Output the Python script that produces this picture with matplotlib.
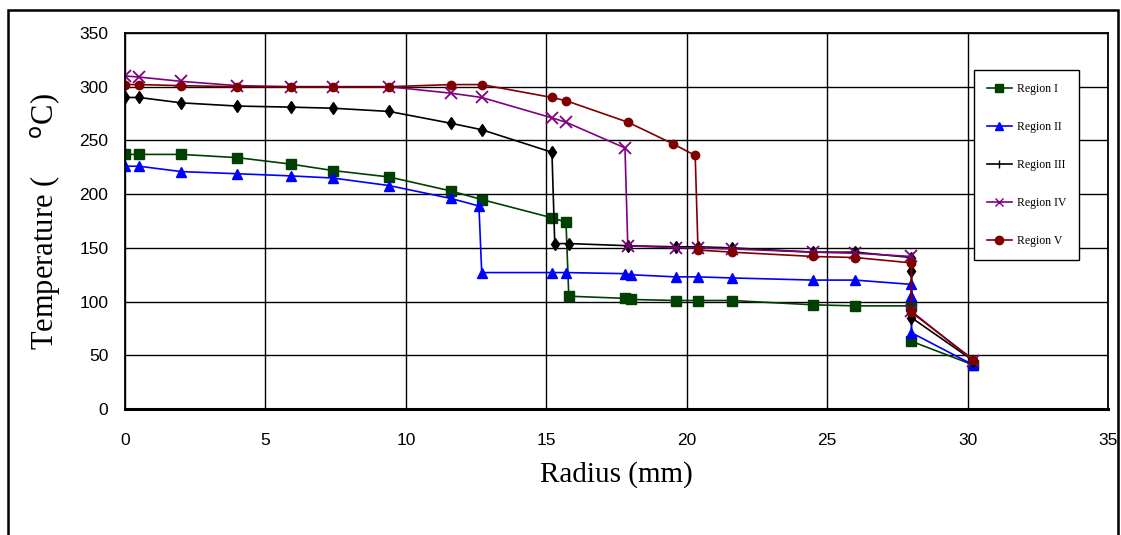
import matplotlib
matplotlib.use("Agg")
import matplotlib.pyplot as plt
from matplotlib.lines import Line2D
from matplotlib.patches import Rectangle

# radius (mm) and temperature (C) for each region
r1 = [0, 0.5, 2, 4, 5.9, 7.4, 9.4, 11.6, 12.7, 15.2, 15.7, 15.8, 17.8, 18, 19.6, 20.4, 21.6, 24.5, 26, 28, 28, 30.2]
t1 = [237, 237, 237, 234, 228, 222, 216, 203, 195, 178, 174, 105, 103, 102, 101, 101, 101, 97, 96, 96, 63, 41]

r2 = [0, 0.5, 2, 4, 5.9, 7.4, 9.4, 11.6, 12.6, 12.7, 15.2, 15.7, 17.8, 18, 19.6, 20.4, 21.6, 24.5, 26, 28, 28, 28, 30.2]
t2 = [226, 226, 221, 219, 217, 215, 208, 196, 189, 127, 127, 127, 126, 125, 123, 123, 122, 120, 120, 116, 105, 71, 41]

r3 = [0, 0.5, 2, 4, 5.9, 7.4, 9.4, 11.6, 12.7, 15.2, 15.3, 15.8, 17.9, 19.6, 20.4, 21.6, 24.5, 26, 28, 28, 28, 30.2]
t3 = [290, 290, 285, 282, 281, 280, 277, 266, 260, 239, 154, 154, 152, 151, 151, 150, 146, 146, 141, 128, 85, 45]

r4 = [0, 0.5, 2, 4, 5.9, 7.4, 9.4, 11.6, 12.7, 15.2, 15.7, 17.8, 17.9, 19.6, 20.4, 21.6, 24.5, 26, 28, 28, 30.2]
t4 = [310, 309, 305, 301, 300, 300, 300, 294, 290, 271, 267, 243, 152, 150, 150, 149, 146, 145, 142, 91, 45]

r5 = [0, 0.5, 2, 4, 5.9, 7.4, 9.4, 11.6, 12.7, 15.2, 15.7, 17.9, 19.5, 20.3, 20.4, 21.6, 24.5, 26, 28, 28, 30.2]
t5 = [302, 302, 301, 300, 300, 300, 300, 302, 302, 290, 287, 267, 247, 236, 148, 146, 142, 141, 136, 90, 46]

labels = ["Region I", "Region II", "Region III", "Region IV", "Region V"]
colors = ["#004000", "#0000ff", "#000000", "#800080", "#800000"]

fig = plt.figure(figsize=(11.21, 5.35), dpi=100)
ax = fig.add_axes([0.1115, 0.2355, 0.877, 0.7028])

ax.plot(r1, t1, color=colors[0], marker="s", ms=7, lw=1.2)
ax.plot(r2, t2, color=colors[1], marker="^", ms=7, lw=1.2)
ax.plot(r3, t3, color=colors[2], marker="d", ms=6, lw=1.2)
ax.plot(r4, t4, color=colors[3], marker="x", ms=8, mew=1.3, lw=1.2)
ax.plot(r5, t5, color=colors[4], marker="o", ms=6, lw=1.2)

ax.set_xlim(0, 35)
ax.set_ylim(0, 350)
ax.set_xticks(range(0, 36, 5))
ax.set_yticks(range(0, 351, 50))
ax.grid(True, color="black", lw=1)
ax.tick_params(length=0, labelsize=12.5)
ax.tick_params(axis="x", pad=17)
ax.tick_params(axis="y", pad=12)
for lab in ax.get_xticklabels() + ax.get_yticklabels():
    lab.set_family("Liberation Sans")
for s in ax.spines.values():
    s.set_linewidth(1.3)
ax.spines["bottom"].set_linewidth(2.2)

ax.set_xlabel("Radius (mm)", family="Liberation Serif", fontsize=21, labelpad=10)
ax.set_ylabel(r"Temperature (     $^{\mathrm{o}}$C)", family="Liberation Serif", fontsize=22, labelpad=12)

markers_leg = ["s", "^", "|", "x", "o"]
handles = [Line2D([], [], color=c, marker=m, ms=6, lw=1.2) for c, m in zip(colors, markers_leg)]
leg = ax.legend(handles, labels, loc="upper left", bbox_to_anchor=(0.8637, 0.902),
                borderaxespad=0, prop={"family": "Liberation Serif", "size": 8.5},
                labelspacing=2.2, handlelength=2.1, handletextpad=0.4,
                borderpad=1.1, fancybox=False, framealpha=1, edgecolor="black")
leg.get_frame().set_linewidth(1.0)

fig.patches.append(Rectangle((8 / 1121, -0.05), 1110 / 1121, 1.0313, transform=fig.transFigure,
                             fill=False, lw=1.8, edgecolor="black"))

fig.savefig("out.png", dpi=100)
